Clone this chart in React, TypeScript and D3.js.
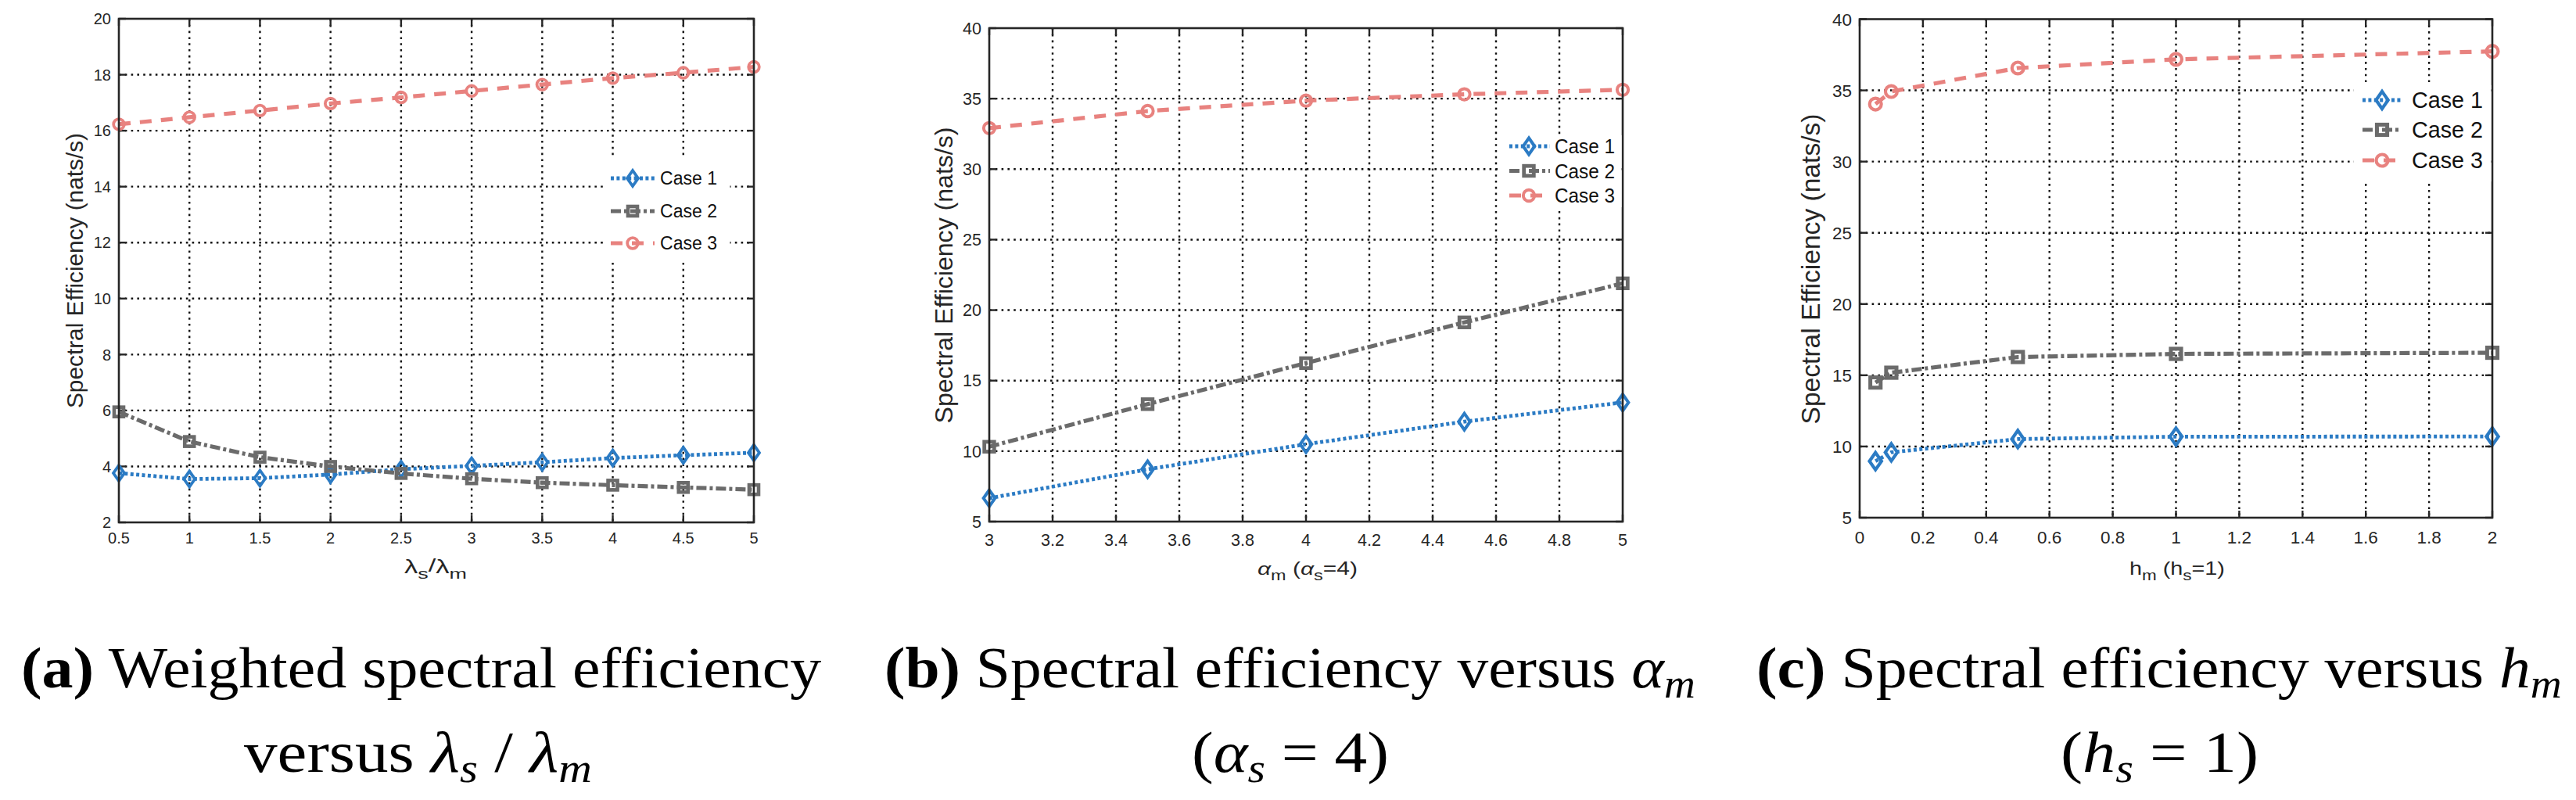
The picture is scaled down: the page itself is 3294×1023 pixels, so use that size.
import React, { useLayoutEffect, useRef } from "react";
import * as d3 from "d3";

// ---------------- data ----------------
const CASES = ["Case 1", "Case 2", "Case 3"];

// (a) weighted spectral efficiency versus lambda_s / lambda_m
const A_X = [0.5, 1, 1.5, 2, 2.5, 3, 3.5, 4, 4.5, 5];
const A_CASE1 = [3.76, 3.55, 3.58, 3.71, 3.9, 4.02, 4.15, 4.3, 4.4, 4.49];
const A_CASE2 = [5.95, 4.89, 4.33, 4.0, 3.75, 3.56, 3.42, 3.33, 3.25, 3.17];
const A_CASE3 = [16.23, 16.48, 16.72, 16.97, 17.19, 17.42, 17.65, 17.88, 18.07, 18.28];
const A_XTICKS = [0.5, 1, 1.5, 2, 2.5, 3, 3.5, 4, 4.5, 5];
const A_YTICKS = [2, 4, 6, 8, 10, 12, 14, 16, 18, 20];

// (b) spectral efficiency versus alpha_m (alpha_s = 4)
const B_X = [3, 3.5, 4, 4.5, 5];
const B_CASE1 = [6.66, 8.71, 10.49, 12.09, 13.45];
const B_CASE2 = [10.31, 13.33, 16.24, 19.13, 21.9];
const B_CASE3 = [32.91, 34.12, 34.86, 35.31, 35.63];
const B_XTICKS = [3, 3.2, 3.4, 3.6, 3.8, 4, 4.2, 4.4, 4.6, 4.8, 5];
const B_YTICKS = [5, 10, 15, 20, 25, 30, 35, 40];

// (c) spectral efficiency versus h_m (h_s = 1)
const C_X = [0.05, 0.1, 0.5, 1, 2];
const C_CASE1 = [8.97, 9.59, 10.52, 10.69, 10.7];
const C_CASE2 = [14.49, 15.18, 16.28, 16.5, 16.58];
const C_CASE3 = [34.04, 34.92, 36.57, 37.18, 37.74];
const C_XTICKS = [0, 0.2, 0.4, 0.6, 0.8, 1, 1.2, 1.4, 1.6, 1.8, 2];
const C_YTICKS = [5, 10, 15, 20, 25, 30, 35, 40];

const Y_LABEL = "Spectral Efficiency (nats/s)";

// ---------------- styles ----------------
const STYLES = [
  { color: "#2b7bc4", dash: "4 3.4", width: 4.8, marker: "diamond" },
  { color: "#6b6b6b", dash: "13 4 4 4", width: 5.2, marker: "square" },
  { color: "#e8827f", dash: "15 12", width: 5.2, marker: "circle" },
];
const AXIS_COLOR = "#262626";
const SANS = "'Liberation Sans', Arial, Helvetica, sans-serif";
const SERIF = "'Liberation Serif', 'Times New Roman', serif";

type Panel = {
  xs: number[];
  series: number[][];
  xTicks: number[];
  yTicks: number[];
  xDomain: [number, number];
  yDomain: [number, number];
  left: number;
  right: number;
  top: number;
  bottom: number;
  tickFont: number;
  xTickBase: number;
  yLabelX: number;
  yLabelY: number;
  yLabelFont: number;
  yLabelLen: number;
  markerScale: number;
  legend: {
    x0: number; x1: number; y0: number; y1: number;
    rows: number[]; lx0: number; lx1: number; mx: number; tx: number;
    font: number; tw: number;
  };
  xTitle: "a" | "b" | "c";
  xTitleY: number;
  xTitleW: number;
  xTitleCx: number;
};

const PANELS: Panel[] = [
  {
    xs: A_X, series: [A_CASE1, A_CASE2, A_CASE3], xTicks: A_XTICKS, yTicks: A_YTICKS,
    xDomain: [0.5, 5], yDomain: [2, 20],
    left: 152, right: 964, top: 24, bottom: 668,
    tickFont: 20, xTickBase: 695,
    yLabelX: 106, yLabelY: 346, yLabelFont: 29, yLabelLen: 352,
    markerScale: 1,
    legend: { x0: 774, x1: 935, y0: 203, y1: 334, rows: [228, 270, 311], lx0: 781, lx1: 837, mx: 809, tx: 844, font: 23, tw: 73 },
    xTitle: "a", xTitleY: 733, xTitleW: 80, xTitleCx: 557,
  },
  {
    xs: B_X, series: [B_CASE1, B_CASE2, B_CASE3], xTicks: B_XTICKS, yTicks: B_YTICKS,
    xDomain: [3, 5], yDomain: [5, 40],
    left: 1265, right: 2075, top: 36, bottom: 667,
    tickFont: 21.5, xTickBase: 698,
    yLabelX: 1218, yLabelY: 352, yLabelFont: 31, yLabelLen: 379,
    markerScale: 1.05,
    legend: { x0: 1918, x1: 2075, y0: 173, y1: 265, rows: [187, 218.5, 250], lx0: 1930, lx1: 1982, mx: 1955, tx: 1988, font: 25, tw: 77 },
    xTitle: "b", xTitleY: 735, xTitleW: 128, xTitleCx: 1672,
  },
  {
    xs: C_X, series: [C_CASE1, C_CASE2, C_CASE3], xTicks: C_XTICKS, yTicks: C_YTICKS,
    xDomain: [0, 2], yDomain: [5, 40],
    left: 2378, right: 3187, top: 24.5, bottom: 662,
    tickFont: 22.5, xTickBase: 695,
    yLabelX: 2327, yLabelY: 344, yLabelFont: 33, yLabelLen: 397,
    markerScale: 1.1,
    legend: { x0: 3010, x1: 3187, y0: 109, y1: 232, rows: [128, 166, 205], lx0: 3021, lx1: 3070, mx: 3046, tx: 3084, font: 29, tw: 91 },
    xTitle: "c", xTitleY: 735, xTitleW: 122, xTitleCx: 2784,
  },
];

function Marker({ kind, x, y, color, s }: { kind: string; x: number; y: number; color: string; s: number }) {
  const sw = 3.8 * s;
  if (kind === "diamond") {
    const hw = 7 * s, hh = 10 * s;
    return <path d={`M${x},${y - hh}L${x + hw},${y}L${x},${y + hh}L${x - hw},${y}Z`} fill="none" stroke={color} strokeWidth={sw} strokeLinejoin="miter" />;
  }
  if (kind === "square") {
    const h = 6 * s;
    return <rect x={x - h} y={y - h} width={2 * h} height={2 * h} fill="none" stroke={color} strokeWidth={sw + 0.8} />;
  }
  return <circle cx={x} cy={y} r={6.8 * s} fill="none" stroke={color} strokeWidth={sw} />;
}

function XTitle({ p, size }: { p: Panel; size: number }) {
  const sub = size * 0.78;
  const dd = 7;
  const common = {
    className: "fit",
    x: p.xTitleCx - p.xTitleW / 2,
    y: p.xTitleY,
    "data-left": p.xTitleCx - p.xTitleW / 2,
    "data-w": p.xTitleW,
    fontFamily: SANS,
    fontSize: size,
    fill: AXIS_COLOR,
  } as any;
  if (p.xTitle === "a") {
    return (
      <text {...common}>
        λ<tspan fontSize={sub} dy={dd}>s</tspan>
        <tspan dy={-dd - 2}>/</tspan>
        <tspan dy={2}>λ</tspan>
        <tspan fontSize={sub} dy={dd}>m</tspan>
      </text>
    );
  }
  if (p.xTitle === "b") {
    return (
      <text {...common}>
        <tspan fontStyle="italic">α</tspan>
        <tspan fontSize={sub} dy={dd}>m</tspan>
        <tspan dy={-dd}> (</tspan>
        <tspan fontStyle="italic">α</tspan>
        <tspan fontSize={sub} dy={dd}>s</tspan>
        <tspan dy={-dd}>=4)</tspan>
      </text>
    );
  }
  return (
    <text {...common}>
      h<tspan fontSize={sub} dy={dd}>m</tspan>
      <tspan dy={-dd}> (h</tspan>
      <tspan fontSize={sub} dy={dd}>s</tspan>
      <tspan dy={-dd}>=1)</tspan>
    </text>
  );
}

function Chart({ p }: { p: Panel }) {
  const xs = d3.scaleLinear().domain(p.xDomain).range([p.left, p.right]);
  const ys = d3.scaleLinear().domain(p.yDomain).range([p.bottom, p.top]);
  const tickLen = 9;
  const fmt = (v: number) => String(v);
  const lg = p.legend;
  return (
    <g>
      {/* grid */}
      {p.yTicks.filter((t) => t !== p.yDomain[0] && t !== p.yDomain[1]).map((t) => (
        <line key={"gy" + t} x1={p.left} x2={p.right} y1={ys(t)} y2={ys(t)} stroke="#111" strokeWidth={2.4} strokeDasharray="2.6 5.2" />
      ))}
      {p.xTicks.filter((t) => t !== p.xDomain[0] && t !== p.xDomain[1]).map((t) => (
        <line key={"gx" + t} x1={xs(t)} x2={xs(t)} y1={p.top} y2={p.bottom} stroke="#111" strokeWidth={2.4} strokeDasharray="2.6 5.2" />
      ))}
      {/* ticks on all sides */}
      {p.yTicks.map((t) => (
        <g key={"ty" + t}>
          <line x1={p.left} x2={p.left + tickLen} y1={ys(t)} y2={ys(t)} stroke={AXIS_COLOR} strokeWidth={2.4} />
          <line x1={p.right} x2={p.right - tickLen} y1={ys(t)} y2={ys(t)} stroke={AXIS_COLOR} strokeWidth={2.4} />
          <text x={p.left - 10} y={ys(t)} dy="0.36em" textAnchor="end" fontFamily={SANS} fontSize={p.tickFont} fill={AXIS_COLOR}>{fmt(t)}</text>
        </g>
      ))}
      {p.xTicks.map((t) => (
        <g key={"tx" + t}>
          <line x1={xs(t)} x2={xs(t)} y1={p.bottom} y2={p.bottom - tickLen} stroke={AXIS_COLOR} strokeWidth={2.4} />
          <line x1={xs(t)} x2={xs(t)} y1={p.top} y2={p.top + tickLen} stroke={AXIS_COLOR} strokeWidth={2.4} />
          <text x={xs(t)} y={p.xTickBase} textAnchor="middle" fontFamily={SANS} fontSize={p.tickFont} fill={AXIS_COLOR}>{fmt(t)}</text>
        </g>
      ))}
      {/* series */}
      {p.series.map((vals, si) => {
        const st = STYLES[si];
        const line = d3.line<number>().x((_, i) => xs(p.xs[i])).y((d) => ys(d));
        return (
          <g key={"s" + si}>
            <path d={line(vals) || ""} fill="none" stroke={st.color} strokeWidth={st.width} strokeDasharray={st.dash} />
            {vals.map((v, i) => (
              <Marker key={i} kind={st.marker} x={xs(p.xs[i])} y={ys(v)} color={st.color} s={p.markerScale} />
            ))}
          </g>
        );
      })}
      {/* axes box */}
      <rect x={p.left} y={p.top} width={p.right - p.left} height={p.bottom - p.top} fill="none" stroke={AXIS_COLOR} strokeWidth={2.6} />
      {/* legend */}
      <rect x={lg.x0} y={lg.y0} width={lg.x1 - lg.x0 - 1.5} height={lg.y1 - lg.y0} fill="#fff" />
      {CASES.map((c, i) => {
        const st = STYLES[i];
        const y = lg.rows[i];
        return (
          <g key={"l" + i}>
            <line x1={lg.lx0} x2={lg.lx1} y1={y} y2={y} stroke={st.color} strokeWidth={st.width} strokeDasharray={st.dash} />
            <Marker kind={st.marker} x={lg.mx} y={y} color={st.color} s={p.markerScale} />
            <text x={lg.tx} y={y} dy="0.36em" fontFamily={SANS} fontSize={lg.font} fill="#111" textLength={lg.tw} lengthAdjust="spacingAndGlyphs">{c}</text>
          </g>
        );
      })}
      {/* axis labels */}
      <text
        transform={`translate(${p.yLabelX},${p.yLabelY}) rotate(-90)`}
        textAnchor="middle" fontFamily={SANS} fontSize={p.yLabelFont} fill={AXIS_COLOR}
        textLength={p.yLabelLen} lengthAdjust="spacingAndGlyphs"
      >{Y_LABEL}</text>
      <XTitle p={p} size={23} />
    </g>
  );
}

const CAP_SIZE = 75;
const CAP_SUB = 52;
const L1 = 879;
const L2 = 987;

function Captions() {
  const it = { fontStyle: "italic" as const };
  return (
    <g style={{ fontFamily: SERIF }} fontSize={CAP_SIZE} fill="#000">
      {/* (a) */}
      <text className="fit" x={27} y={L1} data-left={27} data-w={1024}>
        <tspan fontWeight="bold">(a)</tspan> Weighted spectral efficiency
      </text>
      <text className="fit" x={312} y={L2} data-left={312} data-w={445}>
        versus <tspan {...it}>λ</tspan>
        <tspan {...it} fontSize={CAP_SUB} dy={13}>s</tspan>
        <tspan dy={-13}> / </tspan>
        <tspan {...it}>λ</tspan>
        <tspan {...it} fontSize={CAP_SUB} dy={13}>m</tspan>
      </text>
      {/* (b) */}
      <text className="fit" x={1131} y={L1} data-left={1131} data-w={1037}>
        <tspan fontWeight="bold">(b)</tspan> Spectral efficiency versus <tspan {...it}>α</tspan>
        <tspan {...it} fontSize={CAP_SUB} dy={13}>m</tspan>
      </text>
      <text className="fit" x={1524} y={L2} data-left={1524} data-w={252}>
        (<tspan {...it}>α</tspan>
        <tspan {...it} fontSize={CAP_SUB} dy={13}>s</tspan>
        <tspan dy={-13}> = 4)</tspan>
      </text>
      {/* (c) */}
      <text className="fit" x={2246} y={L1} data-left={2246} data-w={1030}>
        <tspan fontWeight="bold">(c)</tspan> Spectral efficiency versus <tspan {...it}>h</tspan>
        <tspan {...it} fontSize={CAP_SUB} dy={13}>m</tspan>
      </text>
      <text className="fit" x={2635} y={L2} data-left={2635} data-w={253}>
        (<tspan {...it}>h</tspan>
        <tspan {...it} fontSize={CAP_SUB} dy={13}>s</tspan>
        <tspan dy={-13}> = 1)</tspan>
      </text>
    </g>
  );
}

export default function App() {
  const ref = useRef<SVGSVGElement>(null);
  useLayoutEffect(() => {
    const fit = () => {
      if (!ref.current) return;
      d3.select(ref.current).selectAll<SVGTextElement, unknown>("text.fit").each(function () {
        this.removeAttribute("transform");
        const bb = this.getBBox();
        const left = +(this.getAttribute("data-left") || 0);
        const w = +(this.getAttribute("data-w") || bb.width);
        if (bb.width > 0) {
          const s = w / bb.width;
          this.setAttribute("transform", `translate(${left},0) scale(${s},1) translate(${-bb.x},0)`);
        }
      });
    };
    fit();
    if ((document as any).fonts && (document as any).fonts.ready) {
      (document as any).fonts.ready.then(fit);
    }
  }, []);
  return (
    <svg
      ref={ref}
      width={3294}
      height={1023}
      viewBox="0 0 3294 1023"
      style={{ position: "absolute", left: 0, top: 0, display: "block", background: "#fff" }}
    >
      <rect x={0} y={0} width={3294} height={1023} fill="#fff" />
      {PANELS.map((p, i) => (
        <Chart key={i} p={p} />
      ))}
      <Captions />
    </svg>
  );
}
